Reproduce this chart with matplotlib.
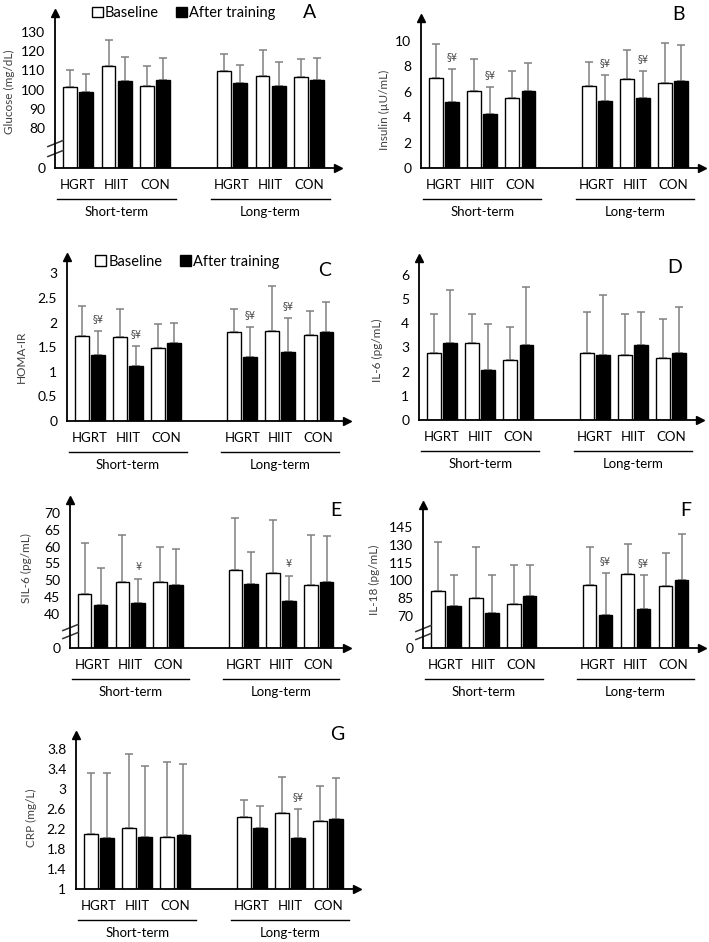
import numpy as np
import matplotlib
matplotlib.use('Agg')
import matplotlib.pyplot as plt
import matplotlib.patches as mpatches
import matplotlib.transforms as mtransforms

plt.rcParams['font.family'] = ['Lato', 'DejaVu Sans']

groups = ["HGRT", "HIIT", "CON", "HGRT", "HIIT", "CON"]
periods = ["Short-term", "Long-term"]
legend_labels = ["Baseline", "After training"]

# A - glucose (mg/dL)
glu_base = [101.2, 112.3, 101.9, 109.7, 107.1, 106.4]
glu_base_sd = [9.0, 13.7, 10.3, 8.9, 13.5, 9.6]
glu_after = [98.7, 104.7, 105.2, 103.4, 102.0, 105.2]
glu_after_sd = [9.4, 12.5, 11.3, 9.5, 12.3, 11.3]
glu_marks = ["", "", "", "", "", ""]

# B - insulin
ins_base = [7.08, 6.07, 5.54, 6.42, 6.98, 6.68]
ins_base_sd = [2.65, 2.47, 2.07, 1.94, 2.30, 3.13]
ins_after = [5.23, 4.22, 6.07, 5.28, 5.54, 6.87]
ins_after_sd = [2.57, 2.15, 2.21, 2.01, 2.07, 2.84]
ins_marks = ["§¥", "§¥", "", "§¥", "§¥", ""]

# C - HOMA-IR
homa_base = [1.72, 1.70, 1.48, 1.80, 1.83, 1.75]
homa_base_sd = [0.62, 0.58, 0.48, 0.48, 0.91, 0.49]
homa_after = [1.33, 1.12, 1.58, 1.30, 1.40, 1.80]
homa_after_sd = [0.50, 0.41, 0.40, 0.61, 0.70, 0.62]
homa_marks = ["§¥", "§¥", "", "§¥", "§¥", ""]

# D - IL-6
il6_base = [2.79, 3.20, 2.47, 2.79, 2.69, 2.58]
il6_base_sd = [1.58, 1.17, 1.36, 1.68, 1.68, 1.59]
il6_after = [3.20, 2.06, 3.09, 2.69, 3.09, 2.79]
il6_after_sd = [2.18, 1.90, 2.43, 2.48, 1.38, 1.87]
il6_marks = ["", "", "", "", "", ""]

# E - sIL-6
sil6_base = [45.8, 49.5, 49.5, 53.0, 52.2, 48.5]
sil6_base_sd = [15.3, 14.0, 10.5, 15.4, 15.8, 15.0]
sil6_after = [42.6, 43.3, 48.5, 48.8, 43.7, 49.5]
sil6_after_sd = [11.1, 7.0, 10.8, 9.7, 7.7, 13.7]
sil6_marks = ["", "¥", "", "", "¥", ""]

# F - IL-18
il18_base = [90.5, 85.4, 80.0, 96.0, 105.6, 94.8]
il18_base_sd = [42.2, 43.1, 32.8, 32.5, 24.9, 28.5]
il18_after = [78.0, 72.0, 86.8, 70.9, 76.0, 100.2]
il18_after_sd = [26.2, 32.2, 26.0, 35.6, 28.5, 38.8]
il18_marks = ["", "", "", "§¥", "§¥", ""]

# G - CRP
crp_base = [2.11, 2.22, 2.04, 2.44, 2.52, 2.36]
crp_base_sd = [1.21, 1.48, 1.51, 0.35, 0.72, 0.71]
crp_after = [2.02, 2.04, 2.09, 2.22, 2.02, 2.41]
crp_after_sd = [1.30, 1.43, 1.41, 0.44, 0.58, 0.81]
crp_marks = ["", "", "", "", "§¥", ""]

W, H = 709, 942
fig = plt.figure(figsize=(W / 100, H / 100), dpi=100)

xpos = np.array([0, 1, 2, 4, 5, 6])
off = 0.21
bw = 0.36
err_col = '#808080'


def broken(lo, gap):
    # linear below lo squeezed into `gap`, 1:1 above
    def fwd(v):
        v = np.asarray(v, dtype=float)
        return np.where(v < lo, v * gap / lo, gap + v - lo)

    def inv(t):
        t = np.asarray(t, dtype=float)
        return np.where(t < gap, t * lo / gap, t - gap + lo)
    return fwd, inv


def draw_panel(box, base, base_sd, after, after_sd, marks, ylim, yticks,
               ylabel, letter, letter_xy, label_xy, brk=None, legend_xy=None):
    l, r, b, t = box
    ax = fig.add_axes([l / W, 1 - b / H, (r - l) / W, (b - t) / H])
    if brk is not None:
        ax.set_yscale('function', functions=broken(*brk))
    zeros = np.zeros(len(base))
    ax.errorbar(xpos - off, base, yerr=[zeros, base_sd], fmt='none', ecolor=err_col,
                elinewidth=1.1, capsize=3, capthick=1.1, zorder=1)
    ax.errorbar(xpos + off, after, yerr=[zeros, after_sd], fmt='none', ecolor=err_col,
                elinewidth=1.1, capsize=3, capthick=1.1, zorder=1)
    ax.bar(xpos - off, base, width=bw, color='white', edgecolor='black', lw=1, zorder=2)
    ax.bar(xpos + off, after, width=bw, color='black', edgecolor='black', lw=1, zorder=2)

    for xi, m, v, s in zip(xpos + off, marks, after, after_sd):
        if m:
            ax.annotate(m, (xi, v + s), xytext=(0, 5), textcoords='offset points',
                        ha='center', va='bottom', fontsize=7, color='#444444',
                        family=['DejaVu Sans'])

    ax.set_xlim(-0.6, 6.75)
    ax.set_ylim(*ylim)
    ax.set_yticks(yticks)
    ax.set_yticklabels(['{:g}'.format(v) for v in yticks], fontsize=10)
    ax.set_xticks(xpos)
    ax.set_xticklabels(groups, fontsize=9.5)
    ax.tick_params(axis='y', length=0, pad=7)
    ax.tick_params(axis='x', length=0, pad=8)
    for sp in ['top', 'right']:
        ax.spines[sp].set_visible(False)
    for sp in ['left', 'bottom']:
        ax.spines[sp].set_linewidth(1.3)
    ax.plot(0, 1, marker='^', color='black', ms=6, transform=ax.transAxes, clip_on=False)
    ax.plot(1, 0, marker='>', color='black', ms=6, transform=ax.transAxes, clip_on=False)

    ax.set_ylabel(ylabel, fontsize=8.5, color='#404040')
    ax.yaxis.set_label_coords(*label_xy)

    ax.text(letter_xy[0], letter_xy[1], letter, transform=ax.transAxes,
            fontsize=14, ha='center', va='center')

    if brk is not None:
        lo = brk[0]
        bt = mtransforms.blended_transform_factory(ax.transAxes, ax.transData)
        ax.plot([0, 0], [0.37 * lo, 0.62 * lo], ls='none', marker=[(-1, -0.4), (1, 0.4)],
                ms=12, mew=1.1, color='#333333', transform=bt, clip_on=False)

    line_tr = mtransforms.offset_copy(ax.get_xaxis_transform(), fig=fig, y=-31, units='dots')
    text_tr = mtransforms.offset_copy(ax.get_xaxis_transform(), fig=fig, y=-44, units='dots')
    for (x0, x1), name in zip([(-0.55, 2.55), (3.45, 6.55)], periods):
        ax.plot([x0, x1], [0, 0], color='black', lw=1, transform=line_tr, clip_on=False)
        ax.text((x0 + x1) / 2, 0, name, transform=text_tr, ha='center', va='center',
                fontsize=9.5)

    if legend_xy is not None:
        handles = [mpatches.Patch(facecolor='white', edgecolor='black', lw=1),
                   mpatches.Patch(facecolor='black', edgecolor='black', lw=1)]
        ax.legend(handles, legend_labels, loc='center', bbox_to_anchor=legend_xy, ncol=2,
                  frameon=False, fontsize=10.5, handlelength=0.75, handleheight=0.75,
                  handletextpad=0.15, columnspacing=1.2, borderpad=0)
    return ax


draw_panel((55, 338, 168, 13), glu_base, glu_base_sd, glu_after, glu_after_sd, glu_marks,
           (0, 139.9), [0, 80, 90, 100, 110, 120, 130], "Glucose (mg/dL)", "A",
           (0.90, 1.0), (-0.141, 0.49), brk=(80, 20.8), legend_xy=(0.455, 1.0))
draw_panel((421, 702, 168, 18), ins_base, ins_base_sd, ins_after, ins_after_sd, ins_marks,
           (0, 11.8), [0, 2, 4, 6, 8, 10], "Insulin (µU/mL)", "B",
           (0.915, 1.02), (-0.110, 0.39))
draw_panel((67, 347, 421, 257), homa_base, homa_base_sd, homa_after, homa_after_sd, homa_marks,
           (0, 3.33), [0, 0.5, 1, 1.5, 2, 2.5, 3], "HOMA-IR", "C",
           (0.92, 0.92), (-0.143, 0.39), legend_xy=(0.43, 0.97))
draw_panel((419, 700, 420, 258), il6_base, il6_base_sd, il6_after, il6_after_sd, il6_marks,
           (0, 6.7), [0, 1, 2, 3, 4, 5, 6], "IL-6 (pg/mL)", "D",
           (0.91, 0.94), (-0.128, 0.43))
draw_panel((70, 347, 648, 500), sil6_base, sil6_base_sd, sil6_after, sil6_after_sd, sil6_marks,
           (0, 73.9), [0, 40, 45, 50, 55, 60, 65, 70], "SIL-6 (pg/mL)", "E",
           (0.96, 0.93), (-0.137, 0.54), brk=(40, 10.2))
draw_panel((423, 702, 648, 505), il18_base, il18_base_sd, il18_after, il18_after_sd, il18_marks,
           (0, 163.8), [0, 70, 85, 100, 115, 130, 145], "IL-18 (pg/mL)", "F",
           (0.94, 0.965), (-0.154, 0.48), brk=(70, 27.4))
draw_panel((76, 357, 889, 735), crp_base, crp_base_sd, crp_after, crp_after_sd, crp_marks,
           (1, 4.08), [1, 1.4, 1.8, 2.2, 2.6, 3, 3.4, 3.8], "CRP (mg/L)", "G",
           (0.93, 1.0), (-0.139, 0.46))

fig.savefig("out.png", dpi=100, facecolor='white')
